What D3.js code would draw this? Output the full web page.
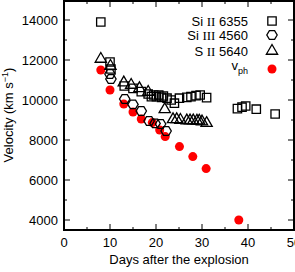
<!DOCTYPE html>
<html>
<head>
<meta charset="utf-8">
<script src="https://cdn.jsdelivr.net/npm/d3@7"></script>
<style>
  body { margin: 0; background: #fff; }
  text { font-family: "Liberation Sans", Arial, sans-serif; }
</style>
</head>
<body>
<div id="chart"></div>
<script>
// [day, velocity]
const siII = [[8,13900],[10,11900],[10.2,11550],[13.1,10700],[15,10580],[16.8,10420],[18.3,10300],
  [19,10170],[19.5,10250],[20.1,10170],[20.6,10250],[21.2,10130],[21.6,10200],[22.4,10090],[23.3,10000],
  [24,9840],[25.1,10090],[26.7,10130],[27.6,10170],[28.7,10220],[29.6,10250],[31,10120],
  [37.7,9570],[38.7,9640],[39.5,9700],[41.8,9540],[45.9,9300]];
const siIII = [[10,11300],[10.2,11050],[13.2,10050],[15,9780],[16.8,9450],[18.5,8950],[19.8,8830],[21,8800],[22.2,8450]];
const sII = [[8,12050],[10.1,11700],[13,10870],[14.6,10750],[16.4,10580],[18.3,10400],[21.9,9530],
  [23.7,9030],[24.5,9030],[25.3,9000],[26.7,8970],[27.4,8970],[28.1,8970],[28.9,8960],[29.4,8960],[30,8920],[31,8840]];
const vph = [[8,11500],[10,10500],[13,9800],[15,9400],[16.8,9050],[19.2,8870],[20.8,8500],[22,8170],
  [25.1,7670],[28,7170],[30.9,6570],[38,4000]];

const xTicks = [0, 10, 20, 30, 40, 50];
const yTicks = [4000, 6000, 8000, 10000, 12000, 14000];

const W = 295, H = 272;
const m = { left: 64, top: 1, right: 1, bottom: 42 };

const svg = d3.select("#chart").append("svg")
  .attr("width", W).attr("height", H);

const x = d3.scaleLinear().domain([0, 50]).range([m.left, W - m.right]);
const y = d3.scaleLinear().domain([3500, 15000]).range([H - m.bottom, 0]);

// ticks, inward, all four sides
const g = svg.append("g").attr("stroke", "#000").attr("stroke-width", 1);
d3.range(0, 51, 5).forEach(v => {
  const len = v % 10 === 0 ? 6 : 3;
  g.append("line").attr("x1", x(v)).attr("x2", x(v)).attr("y1", y(3500)).attr("y2", y(3500) - len);
  g.append("line").attr("x1", x(v)).attr("x2", x(v)).attr("y1", y(15000)+1).attr("y2", y(15000) + 1 + len);
});
d3.range(4000, 15001, 1000).forEach(v => {
  const len = v % 2000 === 0 ? 6 : 3;
  g.append("line").attr("y1", y(v)).attr("y2", y(v)).attr("x1", x(0)).attr("x2", x(0) + len);
  g.append("line").attr("y1", y(v)).attr("y2", y(v)).attr("x1", x(50)).attr("x2", x(50) - len);
});

svg.append("rect")
  .attr("x", x(0)).attr("y", 1)
  .attr("width", x(50) - x(0)).attr("height", y(3500) - 1)
  .attr("fill", "none").attr("stroke", "#000").attr("stroke-width", 2);

svg.append("g").selectAll("text").data(xTicks).join("text")
  .attr("x", d => x(d)).attr("y", y(3500) + 17)
  .attr("text-anchor", "middle").attr("font-size", 13).text(d => d);

svg.append("g").selectAll("text").data(yTicks).join("text")
  .attr("x", x(0) - 6).attr("y", d => y(d) + 4.5)
  .attr("text-anchor", "end").attr("font-size", 13).text(d => d);

svg.append("text")
  .attr("x", (x(0) + x(50)) / 2).attr("y", 264)
  .attr("text-anchor", "middle").attr("font-size", 13)
  .text("Days after the explosion");

const yl = svg.append("text")
  .attr("transform", `translate(13,${(y(3500)) / 2}) rotate(-90)`)
  .attr("text-anchor", "middle").attr("font-size", 13);
yl.append("tspan").text("Velocity (km s");
yl.append("tspan").attr("dy", -5).attr("font-size", 9).text("−1");
yl.append("tspan").attr("dy", 5).text(")");

// symbols
const sq = d3.symbol().type(d3.symbolSquare).size(70)();
const tri = d3.symbol().type(d3.symbolTriangle).size(55)();
const hex = (() => {
  const r = 5.2;
  return "M" + d3.range(6).map(i => {
    const a = i * Math.PI / 3;
    return [r * Math.cos(a), r * Math.sin(a) * 0.95].join(",");
  }).join("L") + "Z";
})();

function plot(data, path, opts) {
  svg.append("g").selectAll("path").data(data).join("path")
    .attr("d", path)
    .attr("transform", d => `translate(${x(d[0])},${y(d[1])})`)
    .attr("fill", opts.fill || "none")
    .attr("stroke", opts.stroke || "none")
    .attr("stroke-width", 1.3);
}

const circ = d3.symbol().type(d3.symbolCircle).size(64)();
plot(vph, circ, { fill: "#ff0000" });
plot(siIII, hex, { stroke: "#000" });
plot(siII, sq, { stroke: "#000" });
plot(sII, tri, { stroke: "#000" });

// legend
const lx = 248, sx = 272;
const leg = [
  { name: "Si", ion: "II", wl: "6355", y: 21, path: sq, fill: "none", stroke: "#000" },
  { name: "Si", ion: "III", wl: "4560", y: 35, path: hex, fill: "none", stroke: "#000" },
  { name: "S", ion: "II", wl: "5640", y: 51, path: tri, fill: "none", stroke: "#000" }
];
leg.forEach(l => {
  const t = svg.append("text").attr("x", lx).attr("y", l.y + 4.5)
    .attr("text-anchor", "end").attr("font-size", 13);
  t.append("tspan").text(l.name + " ");
  t.append("tspan").attr("font-family", "Liberation Serif, serif").text(l.ion);
  t.append("tspan").text(" " + l.wl);
  svg.append("path").attr("d", l.path)
    .attr("transform", `translate(${sx},${l.y})`)
    .attr("fill", l.fill).attr("stroke", l.stroke).attr("stroke-width", 1.3);
});
const tv = svg.append("text").attr("x", lx).attr("y", 70)
  .attr("text-anchor", "end").attr("font-size", 13);
tv.append("tspan").text("v");
tv.append("tspan").attr("dy", 4).attr("font-size", 9).text("ph");
svg.append("path").attr("d", circ)
  .attr("transform", `translate(${sx},69)`).attr("fill", "#ff0000");
</script>
</body>
</html>
